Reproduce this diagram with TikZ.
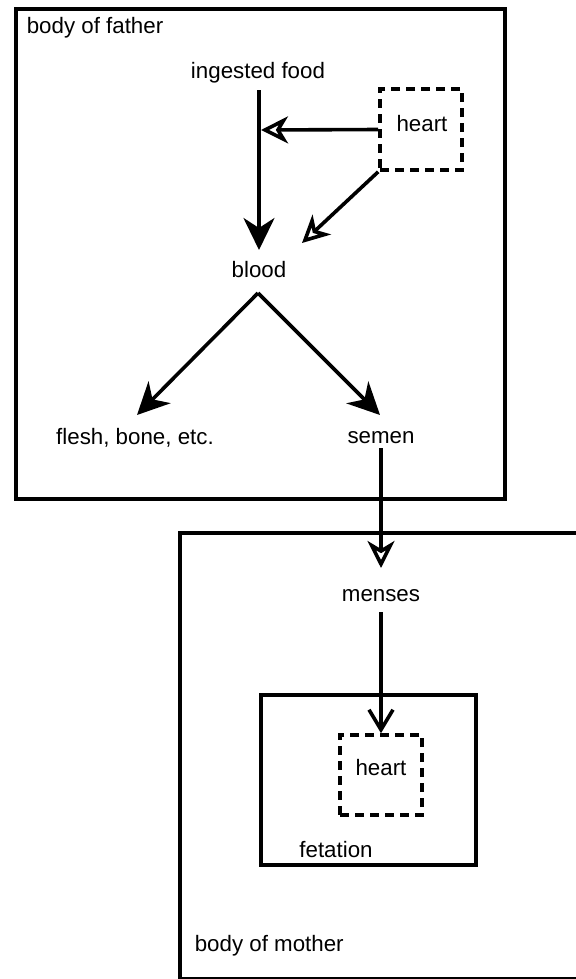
\documentclass[tikz,border=0pt]{standalone}
\usepackage{fontspec}
\setmainfont{Liberation Sans}
\usetikzlibrary{arrows.meta,calc}
\begin{document}
\begin{tikzpicture}[x=1bp,y=-1bp, line width=3.6bp,
  lbl/.style={font=\fontsize{22.4}{26}\selectfont, inner sep=0pt},
  box/.style={draw, anchor=north west, inner sep=0pt},
  hbox/.style={draw, dash pattern=on 9bp off 6bp, inner sep=0pt},
  solidarr/.style={-{Stealth[length=32bp,width=31bp,inset=10bp]}},
  openarr/.style={-{Stealth[open,length=27bp,width=27bp,inset=8bp,fill=white]}},
  barb/.style={-{Straight Barb[length=20bp,width=24bp]}}]
\useasboundingbox (0,0) rectangle (576,979);
\clip (0,0) rectangle (576,979);
% containers
\node[box, minimum width=489bp, minimum height=490bp] (father) at (14,7) {};
\node[box, minimum width=420bp, minimum height=446bp] (mother) at (178,531) {};
\node[box, minimum width=215bp, minimum height=170bp] (fet) at (259,693) {};
% heart boxes
\node[hbox, minimum width=82bp, minimum height=81bp] (heartA) at (421,129.5) {};
\node[hbox, minimum width=82bp, minimum height=80bp] (heartB) at (381,775) {};
% labels
\node[lbl, anchor=west] (lfather) at (25,28) {body of father};
\node[lbl] (food) at (258,73) {ingested food};
\node[lbl] (hA) at (422,124) {heart};
\node[lbl] (blood) at (259,270) {blood};
\node[lbl] (flesh) at (135,438) {flesh, bone, etc.};
\node[lbl] (semen) at (381,438) {semen};
\node[lbl] (menses) at (381,596) {menses};
\node[lbl] (hB) at (381,768) {heart};
\node[lbl] (fetation) at (336,850) {fetation};
\node[lbl, anchor=west] (lmother) at (193,946) {body of mother};
% junction points
\coordinate (j1) at (261,130);
\coordinate (j2) at (302,243);
% connectors
\draw[solidarr] ($(food)+(1,17)$) -- ($(blood)+(0,-20)$);
\draw[openarr] (heartA.west) -- (j1);
\draw[openarr] (heartA.south west) -- (j2);
\draw[solidarr] ($(blood)+(-1,23)$) -- ($(flesh)+(2,-23)$);
\draw[solidarr] ($(blood)+(-1,23)$) -- ($(semen)+(-1,-23)$);
\draw[openarr] ($(semen)+(0,10)$) -- ($(menses)+(0,-28)$);
\draw[barb] ($(menses)+(0,16)$) -- (heartB.north);
\end{tikzpicture}
\end{document}
